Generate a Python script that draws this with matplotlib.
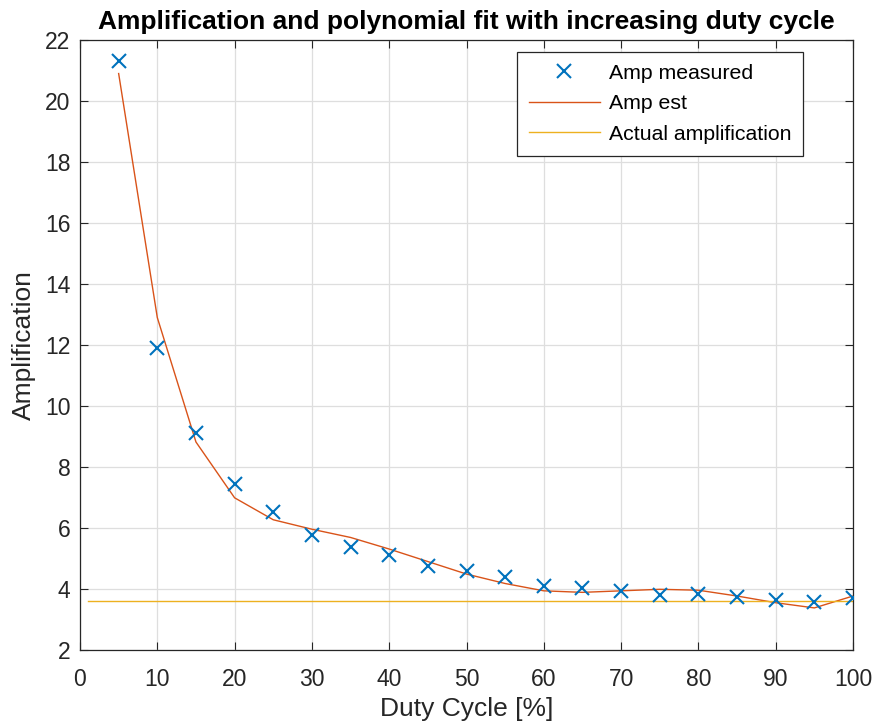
import matplotlib
matplotlib.use("Agg")
import matplotlib.pyplot as plt

plt.rcParams["font.family"] = ["Liberation Sans", "DejaVu Sans"]

# data
duty = [5, 10, 15, 20, 25, 30, 35, 40, 45, 50,
        55, 60, 65, 70, 75, 80, 85, 90, 95, 100]
amp_measured = [21.3, 11.9, 9.12, 7.43, 6.54, 5.78, 5.39, 5.1, 4.76, 4.6,
                4.38, 4.1, 4.04, 3.92, 3.81, 3.82, 3.74, 3.63, 3.57, 3.69]
amp_est = [20.9, 12.9, 8.82, 6.99, 6.27, 5.96, 5.69, 5.31, 4.9, 4.49,
           4.18, 3.94, 3.89, 3.94, 3.99, 3.96, 3.77, 3.55, 3.38, 3.77]
actual_x = [1, 100]
actual_amp = [3.62, 3.62]

BLUE = "#0072BD"
ORANGE = "#D95319"
YELLOW = "#EDB120"
AXC = "#262626"

fig = plt.figure(figsize=(8.76, 7.27), dpi=100)
ax = fig.add_axes([80 / 876, 1 - 650 / 727, 773 / 876, 610 / 727])

ax.plot(duty, amp_measured, "x", color=BLUE, markersize=10, markeredgewidth=1.5,
        label="Amp measured", zorder=3)
ax.plot(duty, amp_est, "-", color=ORANGE, linewidth=1.0, label="Amp est", zorder=2)
ax.plot(actual_x, actual_amp, "-", color=YELLOW, linewidth=1.0,
        label="Actual amplification", zorder=2)

ax.set_xlim(0, 100)
ax.set_ylim(2, 22)
ax.set_xticks(range(0, 101, 10))
ax.set_yticks(range(2, 23, 2))
ax.grid(True, color="#DEDEDE", linewidth=0.9)
ax.set_axisbelow(True)
ax.tick_params(direction="in", top=True, right=True, length=6, width=0.8,
               labelsize=16.5, colors=AXC, pad=7)
ax.tick_params(axis="x", pad=13)
for s in ax.spines.values():
    s.set_color(AXC)
    s.set_linewidth(0.9)

ax.set_xlabel("Duty Cycle [%]", fontsize=19, color=AXC, labelpad=4)
ax.set_ylabel("Amplification", fontsize=19, color=AXC, labelpad=6)
ax.set_title("Amplification and polynomial fit with increasing duty cycle",
             fontsize=19, fontweight="bold", pad=8)

leg = ax.legend(loc="upper right", bbox_to_anchor=(0.935, 0.98),
                fontsize=15.3, frameon=True, fancybox=False, framealpha=1,
                edgecolor=AXC, handlelength=3.35, handletextpad=0.4,
                borderpad=0.55, labelspacing=0.54, borderaxespad=0)
leg.get_frame().set_linewidth(0.9)

fig.savefig("out.png", dpi=100, facecolor="white")
